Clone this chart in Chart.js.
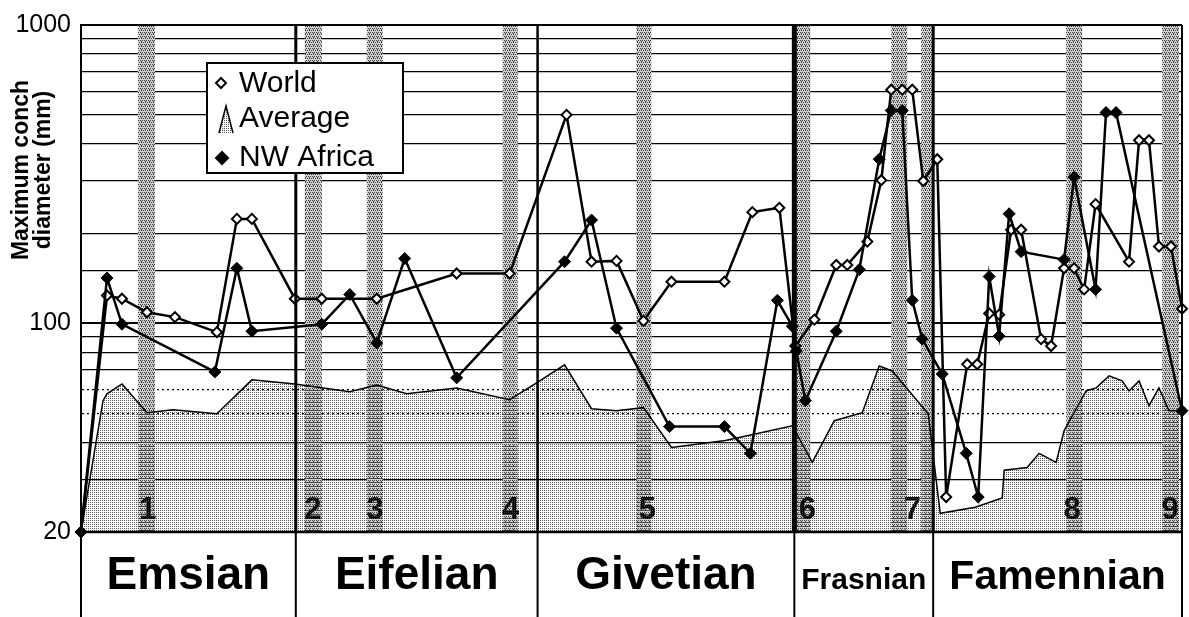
<!DOCTYPE html>
<html>
<head>
<meta charset="utf-8">
<script src="https://cdn.jsdelivr.net/npm/chart.js@4.4.1/dist/chart.umd.min.js"></script>
<style>
  html, body { margin: 0; padding: 0; background: #fff; }
</style>
</head>
<body>
<canvas id="chart" width="1189" height="617"></canvas>
<script>
// === DATA (x = relative position along the Devonian time axis, 0-100) ===
const worldX = [0, 2.36, 3.72, 5.99, 8.53, 12.34, 14.16, 15.52, 19.42, 21.87, 26.86, 34.12, 38.93, 44.10, 46.37, 48.64, 51.09, 53.63, 58.44, 60.98, 63.43, 64.88, 66.61, 68.60, 69.60, 71.42, 72.69, 73.59, 74.59, 75.50, 76.50, 77.77, 78.58, 80.49, 81.40, 82.49, 83.39, 84.48, 85.39, 87.20, 88.11, 89.29, 90.20, 91.11, 92.15, 95.19, 96.10, 97.00, 97.91, 99.00, 100];
const worldY = [20, 124, 121, 109, 105, 93.5, 224, 224, 121, 121, 121, 147, 147, 500, 161, 162, 102, 138, 138, 236, 244, 84, 103, 157, 157, 188, 302, 607, 607, 607, 300, 355, 26.2, 73, 73, 108, 107, 206, 206, 88.6, 84, 153, 153, 130, 251, 161, 411, 411, 181, 181, 112];

const nwAfricaX = [0, 2.36, 3.72, 12.16, 14.16, 15.52, 21.87, 24.41, 26.86, 29.40, 34.12, 43.92, 46.37, 48.64, 53.45, 58.44, 60.80, 63.25, 64.61, 64.97, 65.79, 68.60, 70.69, 72.50, 73.59, 74.59, 75.50, 76.41, 78.22, 80.40, 81.49, 82.49, 83.39, 84.30, 85.39, 89.29, 90.20, 92.15, 93.10, 94.01, 100];
const nwAfricaY = [20, 142, 99.4, 68.8, 153, 94.2, 99.4, 125, 86, 165, 65.7, 161, 222, 96.4, 45.1, 45.1, 36.7, 119.5, 97.9, 80.8, 55.1, 94.2, 151.5, 355, 517, 517, 119.5, 88.6, 67.7, 36.7, 26.2, 143.6, 90.7, 233, 174, 163.6, 309, 130, 509, 509, 51];

const averageX = [0, 2.0, 2.36, 3.72, 5.99, 8.35, 12.34, 15.52, 19.42, 24.41, 26.86, 29.58, 34.12, 38.93, 41.38, 43.92, 46.37, 48.64, 51.09, 53.63, 58.53, 64.61, 66.42, 68.42, 70.96, 72.50, 73.68, 76.95, 78.04, 81.22, 83.67, 83.85, 85.93, 87.02, 88.57, 89.29, 91.29, 92.20, 93.38, 94.56, 95.19, 96.10, 97.00, 97.91, 98.82, 100];
const averageY = [20, 55.1, 58.1, 62.7, 50.2, 51.4, 49.8, 64.7, 62.7, 59.0, 62.2, 58.1, 60.8, 55.5, 63.2, 72.6, 51.8, 51.0, 52.2, 38.4, 40.5, 45.4, 34.2, 47.2, 50.2, 72.0, 69.3, 49.8, 23.1, 24.2, 26.0, 32.2, 32.9, 36.7, 34.2, 43.7, 59.4, 60.8, 66.7, 64.2, 59.4, 64.2, 53.0, 60.8, 51.0, 51.0];

// stages (boundaries on the same 0-100 axis)
const stageNames = ['Emsian', 'Eifelian', 'Givetian', 'Frasnian', 'Famennian'];
const stageBounds = [0, 19.51, 41.47, 64.79, 77.40, 100];

// numbered event bands
const bandStart = [5.17, 20.33, 25.95, 38.29, 50.45, 64.79, 73.59, 76.32, 89.47, 98.19];
const bandEnd = [6.72, 21.87, 27.40, 39.66, 51.81, 66.24, 75.05, 77.40, 90.93, 99.73];
const bandLabels = ['1', '2', '3', '4', '5', '6', '7', '8', '9'];
const bandLabelX = [6.08, 21.05, 26.68, 39.02, 51.45, 65.97, 75.50, 90.02, 98.91];

const yLabels = [20, 100, 1000];
const seriesNames = ['World', 'Average', 'NW Africa'];

const toPoints = (xs, ys) => xs.map((x, i) => ({ x: x, y: ys[i] }));

// === PATTERNS ===
const canvas = document.getElementById('chart');
const mainCtx = canvas.getContext('2d');

const makePattern = (size, bg, fg, dots) => {
    const c = document.createElement('canvas');
    c.width = size;
    c.height = size;
    const g = c.getContext('2d');
    if (bg) {
        g.fillStyle = bg;
        g.fillRect(0, 0, size, size);
    }
    g.fillStyle = fg;
    dots.forEach(d => g.fillRect(d[0], d[1], 1, 1));
    return mainCtx.createPattern(c, 'repeat');
};

const avgPattern = makePattern(2, null, 'rgba(60,60,60,0.85)', [[0, 0]]);
const bandPattern = makePattern(4, '#d2d2d2', '#3a3a3a', [[0, 0], [2, 0], [1, 2], [3, 2], [1, 1]]);

const FONT = '"Liberation Sans", Arial, sans-serif';
Chart.defaults.font.family = FONT;

const drawDiamond = (ctx, x, y, r, filled) => {
    ctx.beginPath();
    ctx.moveTo(x, y - r);
    ctx.lineTo(x + r, y);
    ctx.lineTo(x, y + r);
    ctx.lineTo(x - r, y);
    ctx.closePath();
    ctx.fillStyle = filled ? '#000' : '#fff';
    ctx.fill();
    ctx.lineWidth = 2;
    ctx.strokeStyle = '#000';
    ctx.stroke();
};

// === PLUGINS ===
const bandsPlugin = {
    id: 'bands',
    beforeDatasetsDraw(chart) {
        const { ctx, chartArea: a, scales: { x } } = chart;
        ctx.save();
        ctx.fillStyle = bandPattern;
        bandStart.forEach((s, i) => {
            const x0 = x.getPixelForValue(s);
            const x1 = x.getPixelForValue(bandEnd[i]);
            ctx.fillRect(x0, a.top, x1 - x0, a.bottom - a.top);
        });
        ctx.font = 'bold 31px ' + FONT;
        ctx.fillStyle = '#000';
        ctx.textAlign = 'center';
        ctx.textBaseline = 'alphabetic';
        bandLabels.forEach((t, i) => {
            ctx.fillText(t, x.getPixelForValue(bandLabelX[i]), a.bottom - 13);
        });
        ctx.restore();
    }
};

const stagesPlugin = {
    id: 'stages',
    afterDatasetsDraw(chart) {
        const { ctx, chartArea: a, scales: { x } } = chart;
        const h = chart.height;
        const widths = [2, 3, 2.5, 5, 3, 2];
        ctx.save();
        ctx.strokeStyle = '#000';
        // top and bottom frame of the plot
        ctx.lineWidth = 2;
        ctx.beginPath();
        ctx.moveTo(a.left, a.top);
        ctx.lineTo(a.right, a.top);
        ctx.stroke();
        ctx.lineWidth = 2.5;
        ctx.beginPath();
        ctx.moveTo(a.left, a.bottom);
        ctx.lineTo(a.right, a.bottom);
        ctx.stroke();

        stageBounds.forEach((b, i) => {
            const px = x.getPixelForValue(b);
            ctx.lineWidth = widths[i];
            ctx.beginPath();
            ctx.moveTo(px, a.top);
            ctx.lineTo(px, a.bottom);
            ctx.stroke();
            ctx.lineWidth = 2;
            ctx.beginPath();
            ctx.moveTo(px, a.bottom);
            ctx.lineTo(px, h);
            ctx.stroke();
        });

        ctx.fillStyle = '#000';
        ctx.textAlign = 'center';
        ctx.textBaseline = 'alphabetic';
        stageNames.forEach((name, i) => {
            const x0 = x.getPixelForValue(stageBounds[i]);
            const x1 = x.getPixelForValue(stageBounds[i + 1]);
            const size = name === 'Frasnian' ? 30 : (name === 'Famennian' ? 41 : 46);
            ctx.font = 'bold ' + size + 'px ' + FONT;
            ctx.fillText(name, (x0 + x1) / 2, a.bottom + 57);
        });
        ctx.restore();
    }
};

const legendPlugin = {
    id: 'boxLegend',
    afterDraw(chart) {
        const { ctx, chartArea: a } = chart;
        const left = a.left + 126;
        const top = a.top + 38;
        ctx.save();
        ctx.fillStyle = '#fff';
        ctx.fillRect(left, top, 196, 110);
        ctx.lineWidth = 2;
        ctx.strokeStyle = '#000';
        ctx.strokeRect(left, top, 196, 110);

        ctx.font = '30px ' + FONT;
        ctx.textBaseline = 'middle';
        ctx.textAlign = 'left';

        // World
        drawDiamond(ctx, left + 14, top + 20, 5, false);
        ctx.fillStyle = '#000';
        ctx.fillText(seriesNames[0], left + 32, top + 21);

        // Average (little area icon)
        ctx.beginPath();
        ctx.moveTo(left + 12, top + 70);
        ctx.lineTo(left + 19, top + 43);
        ctx.lineTo(left + 26, top + 70);
        ctx.closePath();
        ctx.fillStyle = avgPattern;
        ctx.fill();
        ctx.lineWidth = 1.5;
        ctx.beginPath();
        ctx.moveTo(left + 12, top + 70);
        ctx.lineTo(left + 19, top + 43);
        ctx.lineTo(left + 26, top + 70);
        ctx.stroke();
        ctx.fillStyle = '#000';
        ctx.fillText(seriesNames[1], left + 32, top + 56);

        // NW Africa
        drawDiamond(ctx, left + 15, top + 95, 6, true);
        ctx.fillStyle = '#000';
        ctx.fillText(seriesNames[2], left + 32, top + 95);
        ctx.restore();
    }
};

const yTitlePlugin = {
    id: 'yTitle',
    afterDraw(chart) {
        const { ctx } = chart;
        ctx.save();
        ctx.translate(22, 170);
        ctx.rotate(-Math.PI / 2);
        ctx.font = 'bold 23px ' + FONT;
        ctx.fillStyle = '#000';
        ctx.textAlign = 'center';
        ctx.textBaseline = 'middle';
        ctx.fillText('Maximum conch', 0, 0);
        ctx.fillText('diameter (mm)', 0, 22);
        ctx.restore();
    }
};

// === CHART ===
new Chart(canvas, {
    type: 'line',
    data: {
        datasets: [
            {
                label: seriesNames[2],
                data: toPoints(nwAfricaX, nwAfricaY),
                borderColor: '#000',
                borderWidth: 2.5,
                pointStyle: 'rectRot',
                pointRadius: 6,
                pointBackgroundColor: '#000',
                pointBorderColor: '#000',
                pointBorderWidth: 1,
                tension: 0,
                clip: false
            },
            {
                label: seriesNames[0],
                data: toPoints(worldX, worldY),
                borderColor: '#000',
                borderWidth: 2.5,
                pointStyle: 'rectRot',
                pointRadius: 5,
                pointBackgroundColor: '#fff',
                pointBorderColor: '#000',
                pointBorderWidth: 2,
                tension: 0,
                clip: false
            },
            {
                label: seriesNames[1],
                data: toPoints(averageX, averageY),
                borderColor: '#000',
                borderWidth: 1.5,
                pointRadius: 0,
                backgroundColor: avgPattern,
                fill: 'start',
                tension: 0,
                clip: false
            }
        ]
    },
    options: {
        responsive: false,
        animation: false,
        events: [],
        layout: { padding: { top: 22, right: 6, bottom: 85, left: 0 } },
        plugins: {
            legend: { display: false },
            tooltip: { enabled: false }
        },
        scales: {
            x: {
                type: 'linear',
                min: 0,
                max: 100,
                display: false
            },
            y: {
                type: 'logarithmic',
                min: 20,
                max: 1000,
                afterFit: (s) => { s.width = 81; },
                ticks: {
                    autoSkip: false,
                    padding: 10,
                    color: '#000',
                    font: { size: 25 },
                    callback: (v) => yLabels.includes(v) ? String(v) : ''
                },
                grid: {
                    color: '#000',
                    drawTicks: false,
                    lineWidth: (c) => (c.tick && [100, 1000].includes(c.tick.value)) ? 2 : 1.3
                },
                border: {
                    color: '#000',
                    width: 2,
                    dash: (c) => (c.tick && [50, 60].includes(c.tick.value)) ? [2, 3] : []
                }
            }
        }
    },
    plugins: [bandsPlugin, stagesPlugin, legendPlugin, yTitlePlugin]
});
</script>
</body>
</html>
